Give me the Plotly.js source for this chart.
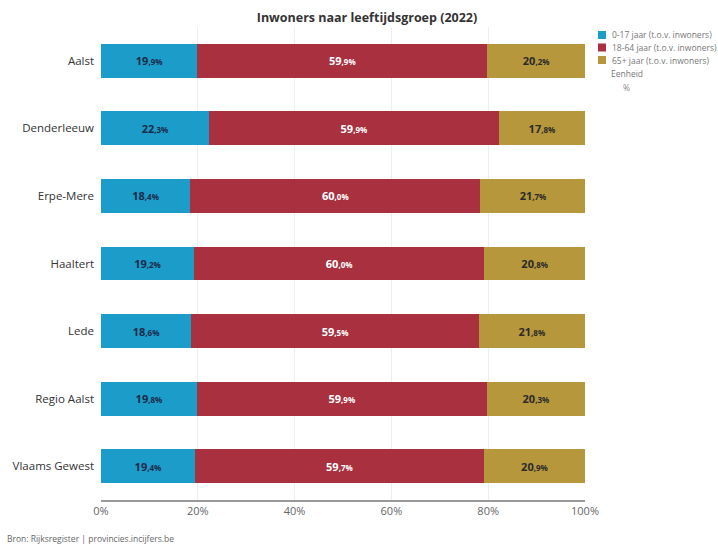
<!DOCTYPE html>
<html><head><meta charset="utf-8">
<script src="https://cdn.plot.ly/plotly-3.0.1.min.js"></script>
<style>body{margin:0;background:#fff}#c{width:718px;height:547px}</style>
</head><body><div id="c"></div>
<script>
const categories = ["Aalst","Denderleeuw","Erpe-Mere","Haaltert","Lede","Regio Aalst","Vlaams Gewest"];
const young = [19.9,22.3,18.4,19.2,18.6,19.8,19.4];
const adult = [59.9,59.9,60.0,60.0,59.5,59.9,59.7];
const old = [20.2,17.8,21.7,20.8,21.8,20.3,20.9];
const seriesNames = ["0-17 jaar (t.o.v. inwoners)","18-64 jaar (t.o.v. inwoners)","65+ jaar (t.o.v. inwoners)"];
const xTicks = [0,20,40,60,80,100];
const xTickLabels = ["0%","20%","40%","60%","80%","100%"];

function lab(v){
  const s = v.toFixed(1).split(".");
  return "<b>"+s[0]+"</b><span style='font-size:8px'><b>,"+s[1]+"%</b></span>";
}
const colors = ["#1b9cc9","#a8303f","#b7973b"];
const txtColors = ["#1d2a4a","#ffffff","#2a2a2a"];
const data = [young,adult,old].map((vals,i)=>({
  type:"bar", orientation:"h", name:seriesNames[i],
  y:categories, x:vals, width:0.5,
  marker:{color:colors[i]},
  text:vals.map(lab), textposition:"inside", insidetextanchor:"middle",
  textfont:{family:"Open Sans", size:11, color:txtColors[i]},
  constraintext:"none", hoverinfo:"none", showlegend:false
}));
const W=718, H=547;
const shapes = [], annotations = [];
seriesNames.forEach((n,i)=>{
  const yc = 35 + i*12.5;
  shapes.push({type:"rect", xref:"paper", yref:"paper", layer:"above",
    x0:(598-101)/484, x1:(606-101)/484, y0:(500-(yc+4))/473, y1:(500-(yc-4))/473,
    fillcolor:colors[i], line:{width:0}});
  annotations.push({text:n, xref:"paper", yref:"paper", x:(610-101)/484, y:(500-yc)/473,
    xanchor:"left", yanchor:"middle", showarrow:false, font:{size:8.5, color:"#777"}});
});
annotations.push(
  {text:"Eenheid", xref:"paper", yref:"paper", x:(609-101)/484, y:(500-73)/473, xanchor:"left", yanchor:"middle", showarrow:false, font:{size:8.5, color:"#777"}},
  {text:"%", xref:"paper", yref:"paper", x:(621-101)/484, y:(500-87)/473, xanchor:"left", yanchor:"middle", showarrow:false, font:{size:8.5, color:"#888"}},
  {text:"Bron: Rijksregister | provincies.incijfers.be", xref:"paper", yref:"paper", x:(5-101)/484, y:(500-538)/473, xanchor:"left", yanchor:"middle", showarrow:false, font:{size:8.5, color:"#666"}}
);
const layout = {
  width:W, height:H, barmode:"stack", showlegend:false,
  margin:{l:101, r:133, t:27, b:47},
  paper_bgcolor:"#fff", plot_bgcolor:"#fff",
  font:{family:"Open Sans", color:"#444"},
  title:{text:"<b>Inwoners naar leeftijdsgroep (2022)</b>", x:367/718, xref:"container", y:0.968, yanchor:"middle", font:{size:12.5, color:"#333", family:"Open Sans"}},
  xaxis:{range:[0,100], tickvals:xTicks, ticktext:xTickLabels, showgrid:true, gridcolor:"#eeeeee",
    zeroline:false, showline:true, linecolor:"#999", linewidth:2, ticks:"", tickfont:{size:11, color:"#666"}},
  yaxis:{categoryorder:"array", categoryarray:categories, range:[6.5,-0.5],
    ticks:"", showgrid:false, tickfont:{size:11.5, color:"#333"}, ticksuffix:"  "},
  shapes:shapes, annotations:annotations
};
Plotly.newPlot("c", data, layout, {displayModeBar:false, staticPlot:true});
</script></body></html>
